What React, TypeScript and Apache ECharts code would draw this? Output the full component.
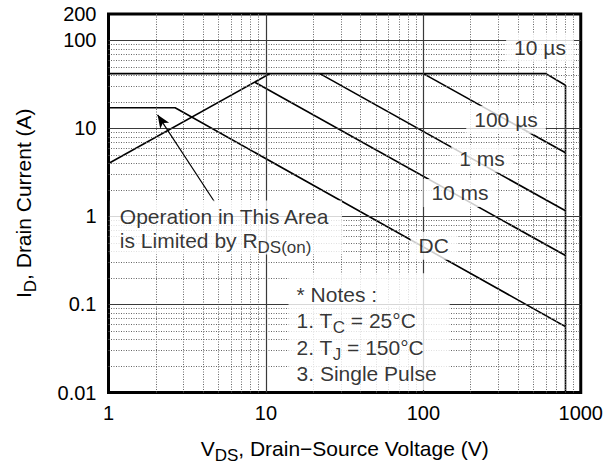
import React, { useEffect, useRef } from 'react';
import * as echarts from 'echarts';

const FONT = '"Liberation Sans", Arial, Helvetica, sans-serif';

// Axis ticks / grid positions
const xTickLabels = [1, 10, 100, 1000];
const yTickLabels = [0.01, 0.1, 1, 10, 100, 200];
const xMajorGrid = [10, 100];
const yMajorGrid = [0.1, 1, 10, 100];
const xMinorGrid = [2, 3, 4, 5, 6, 7, 8, 9, 20, 30, 40, 50, 60, 70, 80, 90, 200, 300, 400, 500, 600, 700, 800, 900];
const yMinorGrid = [
  0.02, 0.03, 0.04, 0.05, 0.06, 0.07, 0.08, 0.09,
  0.2, 0.3, 0.4, 0.5, 0.6, 0.7, 0.8, 0.9,
  2, 3, 4, 5, 6, 7, 8, 9,
  20, 30, 40, 50, 60, 70, 80, 90,
];

// Safe operating area limit curves [V_DS (V), I_D (A)]
const rdsOnLimit = [[1, 4.0], [10.6, 42]];
const limit10us = [[1, 42], [600, 42], [800, 31], [800, 0.01]];
const limit100us = [[100, 42], [800, 5.3]];
const limit1ms = [[22, 42], [800, 1.16]];
const limit10ms = [[8.5, 33.5], [800, 0.36]];
const limitDC = [[1, 17.2], [2.65, 17.2], [800, 0.056]];

// Curve label texts and anchor positions (data coords)
const curveLabelText = ['10 µs', '100 µs', '1 ms', '10 ms', 'DC'];
const curveLabelV = [551, 335, 236, 171, 116.5];
const curveLabelI = [82.8, 12.6, 4.56, 1.85, 0.465];

// Annotation boxes (top-left anchors, data coords)
const operationAnchor = [1.02, 1.522];
const notesAnchor = [13.92, 0.226];
const arrowFrom = [4.7, 1.48];
const arrowTo = [2.05, 14.3];

const rich = {
  a: { fontSize: 21, fontFamily: FONT, color: '#000', lineHeight: 24 },
  s: { fontSize: 17, fontFamily: FONT, color: '#000', lineHeight: 24, padding: [14, 0, 0, 0] },
};
const richNotes = {
  a: { fontSize: 21, fontFamily: FONT, color: '#000', lineHeight: 26.4 },
  s: { fontSize: 17, fontFamily: FONT, color: '#000', lineHeight: 26.4, padding: [14, 0, 0, 0] },
};

const fmt = (v: number) => String(parseFloat(Number(v).toPrecision(4)));

export default function App() {
  const ref = useRef<HTMLDivElement>(null);
  useEffect(() => {
    if (!ref.current) return;
    const chart = echarts.init(ref.current, undefined, { renderer: 'svg' });

    const curve = (data: number[][]) => ({
      type: 'line',
      data,
      symbol: 'none',
      showSymbol: false,
      silent: true,
      z: 3,
      lineStyle: { color: '#000', width: 1.6 },
    });

    const labelData: any[] = curveLabelText.map((t, i) => ({
      value: [curveLabelV[i], curveLabelI[i]],
      label: {
        show: true,
        formatter: t,
        position: [0, 0],
        align: 'center',
        verticalAlign: 'middle',
        fontSize: 21,
        fontFamily: FONT,
        color: '#000',
        lineHeight: 22,
        backgroundColor: '#fff',
        padding: [3, 8, 3, 8],
      },
    }));
    labelData.push({
      value: operationAnchor,
      label: {
        show: true,
        formatter: '{a|Operation in This Area}\n{a|is Limited by R}{s|DS(on)}',
        rich,
        position: [0, 0],
        align: 'left',
        verticalAlign: 'top',
        backgroundColor: '#fff',
        padding: [4, 12, 2, 10],
      },
    });
    labelData.push({
      value: notesAnchor,
      label: {
        show: true,
        formatter:
          '{a|* Notes :}\n{a|1. T}{s|C}{a| = 25°C}\n{a|2. T}{s|J}{a| = 150°C}\n{a|3. Single Pulse}',
        rich: richNotes,
        position: [0, 0],
        align: 'left',
        verticalAlign: 'top',
        backgroundColor: '#fff',
        padding: [8, 13, 3, 8],
      },
    });

    chart.setOption({
      animation: false,
      backgroundColor: '#fff',
      textStyle: { fontFamily: FONT },
      grid: {
        left: 97,
        top: 14,
        width: 484.5,
        height: 383,
        show: true,
        borderColor: '#000',
        borderWidth: 3,
        backgroundColor: 'transparent',
      },
      xAxis: {
        type: 'log',
        logBase: 10,
        min: 1,
        max: 1000,
        axisLine: { show: false },
        axisTick: { show: false },
        splitLine: { show: false },
        axisLabel: {
          customValues: xTickLabels,
          formatter: fmt,
          fontSize: 20,
          fontFamily: FONT,
          color: '#000',
          margin: 10,
        },
        name: '{a|V}{s|DS}{a|, Drain\u2212Source Voltage (V)}',
        nameLocation: 'middle',
        nameGap: 44,
        nameTextStyle: { rich },
      },
      yAxis: {
        type: 'log',
        logBase: 10,
        min: 0.01,
        max: 200,
        axisLine: { show: false },
        axisTick: { show: false },
        splitLine: { show: false },
        axisLabel: {
          customValues: yTickLabels,
          formatter: fmt,
          fontSize: 20,
          fontFamily: FONT,
          color: '#000',
          margin: 12,
        },
        name: '{a|I}{s|D}{a|, Drain Current (A)}',
        nameLocation: 'middle',
        nameRotate: 90,
        nameGap: 73,
        nameTextStyle: { rich },
      },
      series: [
        {
          type: 'line',
          data: [],
          z: 1,
          silent: true,
          markLine: {
            silent: true,
            symbol: 'none',
            label: { show: false },
            lineStyle: { color: '#666', width: 1, type: [1, 1.5] },
            data: [
              ...xMinorGrid.map((v) => ({ xAxis: v })),
              ...yMinorGrid.map((v) => ({ yAxis: v })),
            ],
          },
        },
        {
          type: 'line',
          data: [],
          z: 2,
          silent: true,
          markLine: {
            silent: true,
            symbol: 'none',
            label: { show: false },
            lineStyle: { color: '#3a3a3a', width: 1.2, type: 'solid' },
            data: [
              ...xMajorGrid.map((v) => ({ xAxis: v })),
              ...yMajorGrid.map((v) => ({ yAxis: v })),
            ],
          },
        },
        curve(rdsOnLimit),
        curve(limit10us),
        curve(limit100us),
        curve(limit1ms),
        curve(limit10ms),
        curve(limitDC),
        {
          type: 'line',
          data: [],
          z: 4,
          silent: true,
          markLine: {
            silent: true,
            symbol: ['none', 'arrow'],
            symbolSize: [8, 13],
            label: { show: false },
            lineStyle: { color: '#000', width: 1.2, type: 'solid' },
            data: [[{ coord: arrowFrom }, { coord: arrowTo }]],
          },
        },
        {
          type: 'scatter',
          z: 10,
          symbolSize: 0,
          silent: true,
          itemStyle: { color: 'transparent' },
          data: labelData,
        },
      ],
    });
    return () => chart.dispose();
  }, []);
  return (
    <div
      ref={ref}
      style={{ position: 'absolute', left: 0, top: 0, width: 606, height: 469, background: '#fff' }}
    />
  );
}
